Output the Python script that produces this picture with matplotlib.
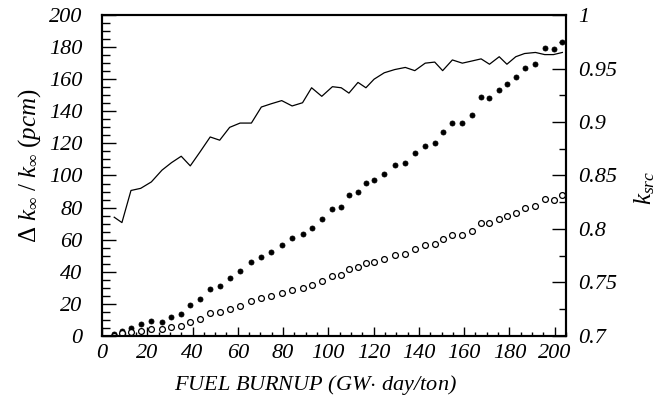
import matplotlib
matplotlib.use("Agg")
import matplotlib.pyplot as plt
from matplotlib.ticker import MultipleLocator, FixedLocator

plt.rcParams['font.family'] = ['Liberation Serif', 'DejaVu Serif']
plt.rcParams['mathtext.fontset'] = 'custom'
plt.rcParams['mathtext.rm'] = 'Liberation Serif'
plt.rcParams['mathtext.it'] = 'Liberation Serif:italic'
plt.rcParams['mathtext.cal'] = 'Liberation Serif:italic'

burnup = [5.4, 8.8, 12.8, 17.1, 21.8, 26.5, 30.7, 35.0, 39.0, 43.3, 47.8, 52.0,
          56.4, 61.0, 66.0, 70.4, 74.7, 79.4, 84.0, 88.6, 92.6, 97.1, 101.8, 105.7,
          109.1, 113.1, 116.6, 120.2, 124.7, 129.3, 134.0, 138.2, 142.8, 147.0, 150.5, 154.8,
          159.2, 163.4, 167.5, 171.2, 175.5, 178.9, 182.8, 186.7, 191.5, 195.6, 199.5, 203.4]

dk_filled = [1.2, 3.3, 5.0, 7.5, 9.3, 8.7, 11.8, 13.9, 19.3, 22.9, 29.5, 31.2,
             35.9, 40.2, 46.3, 49.4, 52.3, 56.9, 60.9, 63.4, 67.3, 72.7, 78.9, 80.4,
             88.0, 89.9, 95.5, 97.0, 100.9, 106.5, 107.6, 114.0, 118.6, 120.2, 127.1, 132.5,
             132.9, 137.6, 148.7, 148.1, 153.3, 156.8, 161.2, 166.8, 169.7, 179.6, 178.8, 183.4]

dk_open = [0.2, 1.7, 2.3, 3.3, 4.4, 4.2, 5.4, 6.2, 8.9, 10.8, 14.1, 15.0,
           16.8, 18.8, 22.0, 23.5, 24.7, 27.0, 28.7, 29.9, 32.0, 34.5, 37.4, 38.1,
           41.8, 42.8, 45.6, 46.2, 48.1, 50.7, 51.3, 54.2, 56.5, 57.2, 60.4, 63.1,
           63.1, 65.4, 70.6, 70.2, 73.1, 74.8, 76.8, 79.6, 81.0, 85.5, 84.9, 87.7]

k_src = [0.811, 0.806, 0.836, 0.838, 0.844, 0.855, 0.862, 0.868, 0.859, 0.872, 0.886, 0.883,
         0.895, 0.899, 0.899, 0.914, 0.917, 0.920, 0.915, 0.918, 0.932, 0.924, 0.933, 0.932,
         0.927, 0.937, 0.932, 0.940, 0.946, 0.949, 0.951, 0.948, 0.955, 0.956, 0.948, 0.958,
         0.955, 0.957, 0.959, 0.954, 0.961, 0.954, 0.961, 0.964, 0.965, 0.963, 0.963, 0.965]

x_ticks = [0, 20, 40, 60, 80, 100, 120, 140, 160, 180, 200]
y_ticks = [0, 20, 40, 60, 80, 100, 120, 140, 160, 180, 200]
r_ticks = [0.7, 0.75, 0.8, 0.85, 0.9, 0.95, 1.0]
r_labels = ['0.7', '0.75', '0.8', '0.85', '0.9', '0.95', '1']

fig = plt.figure(figsize=(6.68, 3.98), dpi=100)
ax = fig.add_axes([0.1527, 0.1558, 0.6946, 0.8065])
ax2 = ax.twinx()

ax.plot(burnup, dk_filled, 'o', ms=3.6, mfc='black', mec='black', mew=0.6, zorder=3)
ax.plot(burnup, dk_open, 'o', ms=4.2, mfc='white', mec='black', mew=0.9, zorder=3)
ax2.plot(burnup, k_src, '-', color='black', lw=0.9)

ax.set_xlim(0, 205)
ax.set_ylim(0, 200)
ax2.set_ylim(0.7, 1.0)

ax.xaxis.set_major_locator(FixedLocator(x_ticks))
ax.xaxis.set_minor_locator(MultipleLocator(5))
ax.yaxis.set_major_locator(FixedLocator(y_ticks))
ax.yaxis.set_minor_locator(MultipleLocator(5))
ax2.yaxis.set_major_locator(FixedLocator(r_ticks))
ax2.yaxis.set_minor_locator(MultipleLocator(0.025))

tick_font = dict(fontsize=16, fontstyle='italic')
ax.set_xticklabels([str(t) for t in x_ticks], **tick_font)
ax.set_yticklabels([str(t) for t in y_ticks], **tick_font)
ax2.set_yticklabels(r_labels, **tick_font)

ax.tick_params(axis='x', which='major', direction='in', length=6.5, width=1, pad=6, top=False)
ax.tick_params(axis='x', which='minor', direction='in', length=2.8, width=1, top=False)
ax.tick_params(axis='y', which='major', direction='in', length=10, width=1, pad=14, right=False)
ax.tick_params(axis='y', which='minor', direction='in', length=5.5, width=1, right=False)
ax2.tick_params(axis='y', which='major', direction='in', length=10, width=1, pad=9, left=False)
ax2.tick_params(axis='y', which='minor', direction='in', length=5, width=1, left=False)

for a in (ax, ax2):
    for s in a.spines.values():
        s.set_linewidth(1.5)

ax.set_xlabel('FUEL BURNUP (GW$\\cdot$ day/ton)', fontsize=16, fontstyle='italic')
ax.xaxis.set_label_coords(0.461, -0.115)
ax.set_ylabel(r'$\Delta\ k_{\infty}\ /\ k_{\infty}\ (pcm)$', fontsize=18)
ax.yaxis.set_label_coords(-0.128, 0.53)
ax2.set_ylabel(r'$k_{src}$', fontsize=18)
ax2.yaxis.set_label_coords(1.143, 0.46)

fig.savefig('out.png', dpi=100)
